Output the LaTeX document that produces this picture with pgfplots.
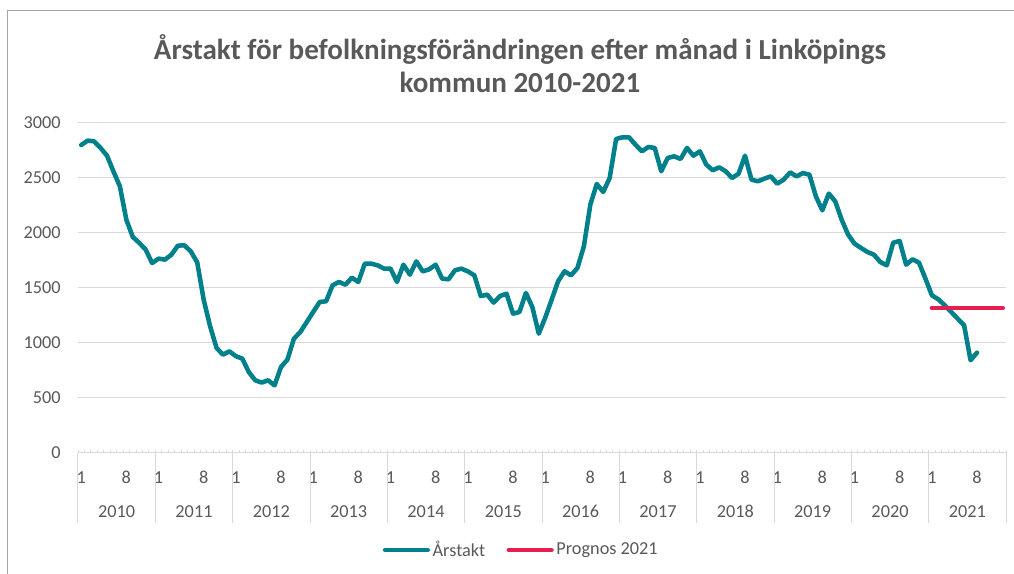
\documentclass[border=0pt]{standalone}
\usepackage{fontspec}
\setmainfont{Carlito}
\usepackage{pgfplots}
\pgfplotsset{compat=1.18}

\definecolor{arstakt}{RGB}{0,128,138}
\definecolor{prognos}{RGB}{230,30,80}
\definecolor{txt}{HTML}{595959}
\definecolor{gridgray}{HTML}{D9D9D9}
\definecolor{framegray}{HTML}{A6A6A6}

\newcommand{\tickfont}{\fontsize{13.7}{16}\selectfont}

\begin{document}
\begin{tikzpicture}
% 1 px of the reference = 0.75pt; axis box lower left sits at px (78,453)
\useasboundingbox (-58.5pt,-90.75pt) rectangle (702pt,339.75pt);
\draw[framegray, line width=0.75pt] (-52.5pt,-91pt) -- (-52.5pt,331.5pt) -- (703pt,331.5pt);

\begin{axis}[
    at={(0,0)}, anchor=south west,
    scale only axis,
    width=696pt, height=247.5pt,
    xmin=-0.5, xmax=143.5,
    ymin=0, ymax=3000,
    clip=false,
    axis lines*=left,
    y axis line style={draw=none},
    x axis line style={gridgray, line width=0.75pt},
    ytick={0,500,...,3000},
    ytick style={draw=none},
    ymajorgrids,
    major grid style={gridgray, line width=0.75pt},
    yticklabel style={font=\tickfont, text=txt, xshift=-9.5pt},
    xtick={0,7,12,19,24,31,36,43,48,55,60,67,72,79,84,91,96,103,108,115,120,127,132,139},
    xticklabels={1,8,1,8,1,8,1,8,1,8,1,8,1,8,1,8,1,8,1,8,1,8,1,8},
    major x tick style={draw=none},
    minor xtick={-0.5,0.5,...,143.5},
    tick align=inside,
    minor tick length=2.25pt,
    minor x tick style={gridgray, line width=0.6pt},
    xticklabel style={font=\tickfont, text=txt, anchor=base, yshift=-22.9pt},
    extra x ticks={5.5,17.5,29.5,41.5,53.5,65.5,77.5,89.5,101.5,113.5,125.5,137.5},
    extra x tick labels={2010,2011,2012,2013,2014,2015,2016,2017,2018,2019,2020,2021},
    extra x tick style={major x tick style={draw=none}, xticklabel style={yshift=-25.8pt}},
    /pgf/number format/assume math mode=true,
    /pgf/number format/1000 sep={},
    legend style={at={(0.478,-0.294)}, anchor=center, draw=none, fill=none,
        font=\tickfont, text=txt, legend columns=2,
        /tikz/every even column/.append style={column sep=14pt}},
    legend image code/.code={\draw[#1] (0pt,0pt) -- (32pt,0pt);},
]
\pgfplotsinvokeforeach{0,...,12}{
    \draw[gridgray, line width=0.75pt] (axis cs:{12*#1-0.5},0) -- ++(0pt,-52.5pt);
}

\addplot[arstakt, line width=3.4pt, line join=round, line cap=round] coordinates {
(0,2800) (1,2840) (2,2833) (3,2773) (4,2703) (5,2560) (6,2424) (7,2121) (8,1964) (9,1910) (10,1849) (11,1727)
(12,1767) (13,1758) (14,1803) (15,1885) (16,1888) (17,1833) (18,1733) (19,1394) (20,1152) (21,955) (22,894) (23,924)
(24,880) (25,858) (26,736) (27,661) (28,640) (29,661) (30,615) (31,782) (32,849) (33,1039) (34,1100) (35,1191)
(36,1282) (37,1373) (38,1379) (39,1524) (40,1555) (41,1530) (42,1594) (43,1555) (44,1721) (45,1721) (46,1706) (47,1676)
(48,1676) (49,1555) (50,1712) (51,1621) (52,1742) (53,1651) (54,1670) (55,1712) (56,1585) (57,1579) (58,1661) (59,1676)
(60,1651) (61,1615) (62,1427) (63,1439) (64,1367) (65,1427) (66,1448) (67,1267) (68,1282) (69,1455) (70,1327) (71,1085)
(72,1230) (73,1394) (74,1561) (75,1652) (76,1615) (77,1682) (78,1879) (79,2258) (80,2446) (81,2373) (82,2500) (83,2855)
(84,2870) (85,2870) (86,2803) (87,2742) (88,2782) (89,2773) (90,2561) (91,2682) (92,2697) (93,2673) (94,2773) (95,2703)
(96,2742) (97,2621) (98,2570) (99,2597) (100,2561) (101,2500) (102,2539) (103,2703) (104,2485) (105,2470) (106,2494) (107,2515)
(108,2448) (109,2485) (110,2551) (111,2515) (112,2545) (113,2530) (114,2333) (115,2206) (116,2358) (117,2288) (118,2121) (119,1985)
(120,1903) (121,1864) (122,1827) (123,1803) (124,1736) (125,1706) (126,1912) (127,1927) (128,1712) (129,1761) (130,1730) (131,1585)
(132,1433) (133,1397) (134,1342) (135,1282) (136,1221) (137,1161) (138,843) (139,912)
};
\addlegendentry{Årstakt}

\addplot[prognos, line width=3.4pt, line cap=round] coordinates {
(132,1320) (133,1320) (134,1320) (135,1320) (136,1320) (137,1320)
(138,1320) (139,1320) (140,1320) (141,1320) (142,1320) (143,1320)
};
\addlegendentry{Prognos 2021}
\end{axis}

\node[align=center, text=txt, font=\bfseries\fontsize{21.8}{24.75}\selectfont]
    at (331.5pt,292.1pt) {Årstakt för befolkningsförändringen efter månad i Linköpings\\kommun 2010-2021};
\end{tikzpicture}
\end{document}
